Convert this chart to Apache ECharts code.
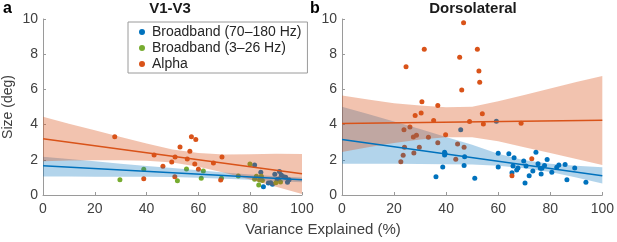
<!DOCTYPE html>
<html>
<head>
<meta charset="utf-8">
<script src="https://cdn.jsdelivr.net/npm/echarts@6/dist/echarts.min.js"></script>
<style>
  html, body { margin: 0; padding: 0; background: #fff; }
  #chart { width: 617px; height: 242px; }
</style>
</head>
<body>
<div id="chart"></div>
<script>
// V1-V3 (panel a)
const v1HighX = [81.7, 84.1, 85.1, 87.0, 87.9, 88.6, 89.5, 90.4, 91.0, 91.3, 92.0, 92.9, 93.7, 94.4, 95.0]
const v1HighY = [1.70, 1.29, 0.47, 0.68, 0.70, 0.61, 1.18, 0.88, 0.91, 1.33, 1.14, 1.04, 1.01, 0.72, 0.87]
const v1LowX = [29.7, 38.9, 51.9, 55.4, 61.1, 61.9, 68.9, 75.4, 79.9, 81.7, 82.4, 83.3, 83.6, 84.3, 84.7, 89.9, 91.7]
const v1LowY = [0.87, 1.46, 0.81, 1.48, 0.95, 1.36, 0.95, 1.08, 1.76, 0.89, 1.06, 0.57, 0.85, 1.06, 0.83, 0.70, 0.74]
const v1AlphaX = [27.7, 38.9, 42.9, 46.3, 49.7, 51.0, 50.9, 52.9, 55.7, 56.7, 57.3, 59.0, 58.6, 60.0, 65.8, 69.1, 68.6]
const v1AlphaY = [3.31, 0.93, 2.27, 1.63, 1.88, 2.16, 1.04, 2.73, 2.05, 2.48, 3.31, 3.16, 1.76, 1.46, 1.82, 2.16, 0.85]

// Dorsolateral (panel b)
const dlHighX = [36.1, 38.7, 39.4, 39.4, 39.6, 45.6, 46.9, 47.1, 51.0, 59.3, 60.0, 60.0, 64.1, 65.3, 65.7, 66.1, 67.1, 67.6,
  69.8, 70.3, 70.7, 71.9, 73.3, 74.5, 75.3, 76.2, 76.5, 76.8, 77.8, 78.8, 80.6, 82.5, 83.3, 85.7, 86.4, 89.4, 93.7]
const dlHighY = [1.04, 1.59, 2.43, 2.27, 2.35, 3.71, 1.67, 2.18, 0.95, 4.19, 2.37, 1.59, 2.35, 1.27, 1.65, 2.12, 1.42, 1.53,
  1.93, 0.68, 1.65, 1.10, 1.36, 2.43, 1.78, 1.52, 1.19, 1.52, 1.67, 2.01, 1.29, 1.57, 1.70, 1.74, 0.87, 1.53, 0.72]
const dlAlphaX = [22.6, 23.5, 23.8, 24.0, 24.6, 26.1, 27.4, 27.6, 28.1, 28.6, 29.7, 30.4, 30.7, 31.6, 33.2, 35.2, 36.8,
  36.8, 39.8, 43.7, 44.4, 45.2, 46.0, 46.7, 46.9, 49.0, 52.0, 52.6, 52.9, 53.9, 54.3, 65.3, 68.8, 72.9]
const dlAlphaY = [1.89, 2.26, 3.71, 2.71, 7.29, 3.86, 3.30, 2.39, 4.51, 3.39, 2.71, 4.66, 5.30, 8.28, 3.28, 4.24, 5.09,
  2.97, 3.43, 2.03, 2.90, 7.82, 5.97, 9.79, 2.71, 4.17, 8.28, 7.05, 6.40, 4.62, 4.03, 1.10, 4.07, 2.06]

// fit lines, value at x = 0 and x = 100
const fitX = [0, 100]
const v1HighFit = [1.66, 0.86]
const v1AlphaFit = [3.20, 1.21]
const dlHighFit = [3.16, 1.10]
const dlAlphaFit = [4.06, 4.25]

// confidence bands
const bandX = [0, 10, 20, 30, 40, 50, 60, 70, 80, 90, 100]
const v1HighLo = [1.05, 1.05, 1.04, 1.04, 1.03, 1.02, 0.98, 0.93, 0.86, 0.78, 0.72]
const v1HighHi = [2.18, 2.05, 1.92, 1.78, 1.65, 1.53, 1.40, 1.28, 1.17, 1.07, 0.99]
const v1AlphaLo = [1.92, 1.96, 1.97, 1.97, 1.94, 1.84, 1.60, 1.26, 0.88, 0.47, 0.05]
const v1AlphaHi = [4.45, 4.05, 3.68, 3.30, 2.92, 2.58, 2.38, 2.30, 2.32, 2.35, 2.33]
const dlHighLo = [1.78, 1.78, 1.77, 1.76, 1.75, 1.73, 1.66, 1.52, 1.30, 1.00, 0.65]
const dlHighHi = [5.02, 4.60, 4.18, 3.75, 3.30, 2.86, 2.35, 1.98, 1.78, 1.66, 1.57]
const dlAlphaLo = [2.44, 2.72, 2.95, 3.15, 3.28, 3.28, 3.05, 2.72, 2.38, 2.04, 1.70]
const dlAlphaHi = [5.66, 5.42, 5.22, 5.08, 4.98, 5.02, 5.32, 5.68, 6.05, 6.42, 6.76]

const BLUE = '#0072BD'
const GREEN = '#77AC30'
const ORANGE = '#D95319'
const FONT = 'Liberation Sans'

const pairs = (xs, ys) => xs.map((x, i) => [x, ys[i]])

const scatter = (name, idx, xs, ys, color) => ({
  name,
  type: 'scatter',
  xAxisIndex: idx,
  yAxisIndex: idx,
  data: pairs(xs, ys),
  symbolSize: 5,
  itemStyle: { color, opacity: 1 },
  z: 2
})

// one polygon per band: lower edge left->right, upper edge right->left
const band = (key, idx, lo, hi, color, alpha) => ({
  name: key,
  type: 'custom',
  xAxisIndex: idx,
  yAxisIndex: idx,
  data: bandX.map((x, i) => [x, lo[i], hi[i]]),
  silent: true,
  z: 3,
  renderItem: (params, api) => {
    if (params.dataIndex !== 0) return
    const lower = bandX.map((x, i) => api.coord([x, lo[i]]))
    const upper = bandX.map((x, i) => api.coord([x, hi[i]])).reverse()
    return {
      type: 'polygon',
      shape: { points: lower.concat(upper) },
      style: { fill: color, opacity: alpha }
    }
  }
})

const fit = (key, idx, ys, color) => ({
  name: key,
  type: 'line',
  xAxisIndex: idx,
  yAxisIndex: idx,
  data: pairs(fitX, ys),
  symbol: 'none',
  lineStyle: { color, width: 1.5 },
  z: 4
})

const xAxis = (idx) => ({
  type: 'value',
  gridIndex: idx,
  min: 0,
  max: 100,
  interval: 20,
  splitLine: { show: false },
  axisLine: { lineStyle: { color: '#9a9a9a' } },
  axisTick: { inside: true, length: 3, lineStyle: { color: '#9a9a9a' } },
  axisLabel: { color: '#404040', fontSize: 14, fontFamily: FONT, margin: 7 }
})

const yAxis = (idx) => ({
  type: 'value',
  gridIndex: idx,
  min: 0,
  max: 10,
  interval: 2,
  splitLine: { show: false },
  axisLine: { show: true, lineStyle: { color: '#9a9a9a' } },
  axisTick: { show: true, inside: true, length: 3, lineStyle: { color: '#9a9a9a' } },
  axisLabel: { color: '#404040', fontSize: 14, fontFamily: FONT, margin: 5 }
})

const chart = echarts.init(document.getElementById('chart'))

chart.setOption({
  animation: false,
  grid: [
    { left: 38, top: 19, width: 264, height: 176 },
    { left: 342, top: 19, width: 263, height: 176 }
  ],
  xAxis: [xAxis(0), xAxis(1)],
  yAxis: [
    Object.assign(yAxis(0), {
      name: 'Size (deg)',
      nameLocation: 'middle',
      nameGap: 28,
      nameTextStyle: { color: '#404040', fontSize: 14, fontFamily: FONT }
    }),
    yAxis(1)
  ],
  legend: {
    data: ['Broadband (70–180 Hz)', 'Broadband (3–26 Hz)', 'Alpha'],
    orient: 'vertical',
    left: 128,
    top: 22,
    padding: [2, 6, 1, 11],
    itemWidth: 6,
    itemHeight: 6,
    itemGap: 0,
    icon: 'circle',
    backgroundColor: '#fff',
    borderColor: '#9a9a9a',
    borderWidth: 1,
    textStyle: { color: '#262626', fontSize: 14, fontFamily: FONT, lineHeight: 16, padding: [0, 0, 0, 2] }
  },
  graphic: [
    { type: 'text', x: 3, y: 9, style: { text: 'a', font: 'bold 16px ' + FONT, fill: '#000', textVerticalAlign: 'middle' } },
    { type: 'text', x: 310, y: 9, style: { text: 'b', font: 'bold 16px ' + FONT, fill: '#000', textVerticalAlign: 'middle' } },
    { type: 'text', x: 170, y: 9, style: { text: 'V1-V3', font: 'bold 15px ' + FONT, fill: '#1a1a1a', textAlign: 'center', textVerticalAlign: 'middle' } },
    { type: 'text', x: 473, y: 9, style: { text: 'Dorsolateral', font: 'bold 15px ' + FONT, fill: '#1a1a1a', textAlign: 'center', textVerticalAlign: 'middle' } },
    { type: 'text', x: 323, y: 230, style: { text: 'Variance Explained (%)', font: '15px ' + FONT, fill: '#404040', textAlign: 'center', textVerticalAlign: 'middle' } }
  ],
  series: [
    scatter('Broadband (70–180 Hz)', 0, v1HighX, v1HighY, BLUE),
    scatter('Broadband (3–26 Hz)', 0, v1LowX, v1LowY, GREEN),
    scatter('Alpha', 0, v1AlphaX, v1AlphaY, ORANGE),
    scatter('Broadband (70–180 Hz)', 1, dlHighX, dlHighY, BLUE),
    scatter('Alpha', 1, dlAlphaX, dlAlphaY, ORANGE),
    band('bandA1', 0, v1HighLo, v1HighHi, BLUE, 0.3),
    band('bandA2', 0, v1AlphaLo, v1AlphaHi, ORANGE, 0.35),
    band('bandB1', 1, dlHighLo, dlHighHi, BLUE, 0.3),
    band('bandB2', 1, dlAlphaLo, dlAlphaHi, ORANGE, 0.35),
    fit('fitA1', 0, v1HighFit, BLUE),
    fit('fitA2', 0, v1AlphaFit, ORANGE),
    fit('fitB1', 1, dlHighFit, BLUE),
    fit('fitB2', 1, dlAlphaFit, ORANGE)
  ]
})
</script>
</body>
</html>
